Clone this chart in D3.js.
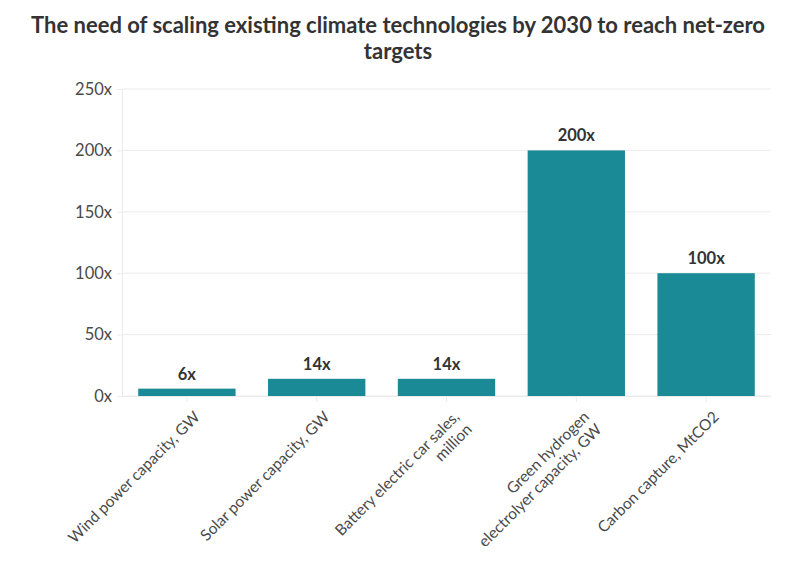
<!DOCTYPE html>
<html>
  <head>
    <meta charset="utf-8">
    <title>scaling climate technologies</title>
    <style>
      body { margin: 0; background: #fff; }
      svg text { font-family: "Lato", "Noto Sans", sans-serif; }
    </style>
  </head>
  <body>
    <div id="container"></div>
    <script src="https://cdn.jsdelivr.net/npm/d3@7"></script>
    <script>
      // data
      var categories = [
        ["Wind power capacity, GW"],
        ["Solar power capacity, GW"],
        ["Battery electric car sales,", "million"],
        ["Green hydrogen", "electrolyer capacity, GW"],
        ["Carbon capture, MtCO2"]
      ];
      var values = [6, 14, 14, 200, 100];
      var yTicks = [0, 50, 100, 150, 200, 250];
      var titleLines = ["The need of scaling existing climate technologies by 2030 to reach net-zero", "targets"];

      var W = 796, H = 575;
      var margin = {top: 89, right: 25, bottom: 179, left: 122},
        width = W - margin.left - margin.right,
        height = H - margin.top - margin.bottom;

      var svg = d3.select("#container").append("svg")
        .attr("width", W)
        .attr("height", H);

      svg.selectAll("text.title")
        .data(titleLines)
        .enter().append("text")
          .attr("class", "title")
          .attr("x", W / 2)
          .attr("y", function(d, i) { return 33 + i * 26; })
          .attr("text-anchor", "middle")
          .attr("font-size", 22)
          .attr("font-weight", "bold")
          .attr("fill", "#333")
          .text(function(d) { return d; });

      var g = svg.append("g")
        .attr("transform", "translate(" + margin.left + "," + margin.top + ")");

      var x = d3.scaleBand().domain(d3.range(values.length)).range([0, width])
        .paddingInner(0.25).paddingOuter(0.125);
      var y = d3.scaleLinear().domain([0, 250]).range([height, 0]);

      // gridlines
      g.selectAll("line.grid")
        .data(yTicks)
        .enter().append("line")
          .attr("class", "grid")
          .attr("x1", 0).attr("x2", width)
          .attr("y1", function(d) { return y(d); })
          .attr("y2", function(d) { return y(d); })
          .attr("stroke", "#ebebeb");

      // y axis
      var yAxis = g.append("g")
        .call(d3.axisLeft(y).tickValues(yTicks).tickSize(5).tickPadding(5).tickFormat(function(d) { return d + "x"; }));
      yAxis.select(".domain").attr("stroke", "#ebebeb");
      yAxis.selectAll(".tick line").attr("stroke", "#ebebeb");
      yAxis.selectAll(".tick text")
        .attr("font-size", 16.5)
        .attr("fill", "#4a4a4a")
        .style("font-family", "Lato, sans-serif");

      // x axis
      var xAxis = g.append("g")
        .attr("transform", "translate(0," + height + ")")
        .call(d3.axisBottom(x).tickSize(6).tickSizeOuter(0).tickFormat(""));
      xAxis.select(".domain").attr("stroke", "#ebebeb");
      xAxis.selectAll(".tick line").attr("stroke", "#ebebeb");

      // bars
      g.selectAll("rect.bar")
        .data(values)
        .enter().append("rect")
          .attr("class", "bar")
          .attr("x", function(d, i) { return x(i); })
          .attr("width", x.bandwidth())
          .attr("y", function(d) { return y(d); })
          .attr("height", function(d) { return height - y(d); })
          .attr("fill", "#1b8a97");

      // value labels
      g.selectAll("text.value")
        .data(values)
        .enter().append("text")
          .attr("class", "value")
          .attr("x", function(d, i) { return x(i) + x.bandwidth() / 2; })
          .attr("y", function(d) { return y(d) - 9; })
          .attr("text-anchor", "middle")
          .attr("font-size", 16.5)
          .attr("font-weight", "bold")
          .attr("fill", "#333")
          .text(function(d) { return d + "x"; });

      // rotated category labels
      var lab = g.selectAll("text.cat")
        .data(categories)
        .enter().append("text")
          .attr("class", "cat")
          .attr("text-anchor", "end")
          .attr("font-size", 15.5)
          .attr("fill", "#4a4a4a")
          .attr("transform", function(d, i) {
            return "translate(" + (x(i) + x.bandwidth() / 2 + 10) + "," + (height + 18) + ") rotate(-45)";
          });
      lab.selectAll("tspan")
        .data(function(d) { return d; })
        .enter().append("tspan")
          .attr("x", 0)
          .attr("dy", function(d, i) { return i === 0 ? "0.35em" : "1.15em"; })
          .text(function(d) { return d; });
    </script>
  </body>
</html>
